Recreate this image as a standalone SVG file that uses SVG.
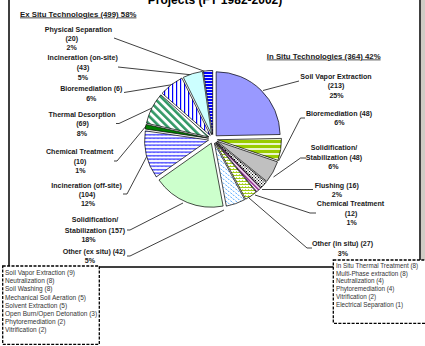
<svg xmlns="http://www.w3.org/2000/svg" width="425" height="346" viewBox="0 0 425 346">
<style>
.lb{font-family:"Liberation Sans",Arial,sans-serif;font-size:7.1px;font-weight:bold;fill:#1a1a1a;text-anchor:middle}
.hd{font-family:"Liberation Sans",Arial,sans-serif;font-size:7.8px;font-weight:bold;fill:#1a1a1a;text-decoration:underline}
.bx{font-family:"Liberation Sans",Arial,sans-serif;font-size:6.5px;fill:#333}
.bx2{font-family:"Liberation Sans",Arial,sans-serif;font-size:6.3px;fill:#333}
.sl{stroke:#000;stroke-width:0.7}
.ld{fill:none;stroke:#000;stroke-width:0.75}
.dash{fill:#fff;stroke:#000;stroke-width:1.3;stroke-dasharray:3 1.4}
</style>
<defs>
<pattern id="pPhys" width="3" height="3" patternUnits="userSpaceOnUse"><rect width="3" height="3" fill="#0000ff"/><rect y="2" width="3" height="0.9" fill="#fff"/></pattern>
<pattern id="pBioIn" width="6" height="5" patternUnits="userSpaceOnUse"><rect width="6" height="5" fill="#99cc00"/><rect y="3.2" width="6" height="1.6" fill="#fff"/></pattern>
<pattern id="pVert" width="4" height="4" patternUnits="userSpaceOnUse"><rect width="4" height="4" fill="#fff"/><rect width="1.2" height="4" fill="#0000ff"/></pattern>
<pattern id="pTD" width="5.5" height="5.5" patternUnits="userSpaceOnUse" patternTransform="rotate(-45)"><rect width="5.5" height="5.5" fill="#fff"/><rect width="2.6" height="5.5" fill="#339966"/></pattern>
<pattern id="pPur" width="3" height="3" patternUnits="userSpaceOnUse" patternTransform="rotate(-45)"><rect width="3" height="3" fill="#fff"/><rect width="1.4" height="3" fill="#800080"/></pattern>
<pattern id="pDots" width="3" height="3" patternUnits="userSpaceOnUse"><rect width="3" height="3" fill="#fff"/><rect width="1.1" height="1.1" fill="#000"/><rect x="1.5" y="1.5" width="1.1" height="1.1" fill="#000"/></pattern>
<pattern id="pOtherIn" width="3" height="3" patternUnits="userSpaceOnUse"><rect width="3" height="3" fill="#fff"/><path d="M0 2 L1 1 L2 2 L3 1" stroke="#99cc00" stroke-width="0.9" fill="none"/><rect x="2" y="0" width="0.8" height="0.8" fill="#99cc00"/></pattern>
<pattern id="pWave" width="5" height="4" patternUnits="userSpaceOnUse"><rect width="5" height="4" fill="#fff"/><path d="M0.3 0.5 L1.8 2 M2.8 2.5 L4.3 4" stroke="#3399ff" stroke-width="0.9" fill="none"/></pattern>
<pattern id="pZig" width="4" height="3.5" patternUnits="userSpaceOnUse"><rect width="4" height="3.5" fill="#fff"/><path d="M0 2.5 L1 1 L2 2.5 L3 1 L4 2.5" stroke="#0000ff" stroke-width="0.8" fill="none"/></pattern>
</defs>

<rect x="421" y="0" width="4" height="260" fill="#d0ccc5"/>
<rect x="9" y="-5" width="411" height="272" fill="#fff" stroke="#000" stroke-width="1.5"/>
<text x="215" y="4" font-family="Liberation Sans, Arial, sans-serif" font-size="12" font-weight="bold" text-anchor="middle" fill="#000">Projects (FY 1982-2002)</text>

<text class="hd" x="20" y="16.5">Ex Situ Technologies (499) 58%</text>
<text class="hd" x="323.7" y="58.5" text-anchor="middle">In Situ Technologies (364) 42%</text>

<g id="connectors">
<polyline class="ld" points="114,38 205,71.5"/>
<polyline class="ld" points="118,67 193,75"/>
<polyline class="ld" points="124,92.5 173,84.5"/>
<polyline class="ld" points="116,123.5 119,123.5 152,108"/>
<polyline class="ld" points="114,161 117,161 146.5,125.5"/>
<polyline class="ld" points="123,194 127,194 147,156"/>
<polyline class="ld" points="127,230 130,230 183,203"/>
<polyline class="ld" points="127,256 130,256 224,210"/>
<polyline class="ld" points="299,81 263,90.5"/>
<polyline class="ld" points="305,118 300.5,118 278.5,161"/>
<polyline class="ld" points="306,158 300.5,158 273.5,177"/>
<polyline class="ld" points="313,189.5 262,189.5"/>
<polyline class="ld" points="316,213 310,213 255,195"/>
<polyline class="ld" points="312,248 307,248 249,198"/>
</g>

<g id="sve">
<path class="sl" fill="#9999ff" d="M216.15,135.79 L216.15,71.79 A64,64 0 0 1 280.14,134.51 Z"/>
<text class="lb" x="336" y="78.5">Soil Vapor Extraction</text>
<text class="lb" x="336" y="87.8">(213)</text>
<text class="lb" x="336.5" y="97.5">25%</text>
</g>
<g id="bio-in">
<path class="sl" fill="url(#pBioIn)" d="M217.45,139.69 L281.44,138.41 A64,64 0 0 1 278.01,160.39 Z"/>
<text class="lb" x="339" y="115.8">Bioremediation (48)</text>
<text class="lb" x="339.5" y="125.2">6%</text>
</g>
<g id="ss-in">
<path class="sl" fill="#c0c0c0" d="M216.94,141.17 L277.5,161.87 A64,64 0 0 1 266.75,181.36 Z"/>
<text class="lb" x="334" y="149.8">Solidification/</text>
<text class="lb" x="334" y="160.2">Stabilization (48)</text>
<text class="lb" x="333.5" y="169.2">6%</text>
</g>
<g id="flushing">
<path class="sl" fill="url(#pDots)" d="M216.33,142.03 L266.14,182.22 A64,64 0 0 1 261.13,187.73 Z"/>
<text class="lb" x="336.7" y="187.5">Flushing (16)</text>
<text class="lb" x="337" y="196.8">2%</text>
</g>
<g id="chem-in">
<path class="sl" fill="url(#pPur)" d="M216.01,142.35 L260.81,188.05 A64,64 0 0 1 256.65,191.79 Z"/>
<text class="lb" x="350.5" y="205.8">Chemical Treatment</text>
<text class="lb" x="351" y="215.8">(12)</text>
<text class="lb" x="351.7" y="224.8">1%</text>
</g>
<g id="other-in">
<path class="sl" fill="url(#pOtherIn)" d="M215.5,142.74 L256.14,192.18 A64,64 0 0 1 245.7,199.17 Z"/>
<text class="lb" x="342.5" y="245.8">Other (in situ) (27)</text>
<text class="lb" x="343" y="255.8">3%</text>
</g>
<g id="other-ex">
<path class="sl" fill="url(#pWave)" d="M214.49,143.24 L244.69,199.67 A64,64 0 0 1 226.3,206.14 Z"/>
<text class="lb" x="94" y="253.5">Other (ex situ) (42)</text>
<text class="lb" x="90" y="262.5">5%</text>
</g>
<g id="ss-ex">
<path class="sl" fill="#ccffcc" d="M211.31,143.17 L223.12,206.07 A64,64 0 0 1 158.97,180 Z"/>
<text class="lb" x="95" y="221.8">Solidification/</text>
<text class="lb" x="95" y="232.5">Stabilization (157)</text>
<text class="lb" x="88.5" y="241.5">18%</text>
</g>
<g id="incin-off">
<path class="sl" fill="url(#pZig)" d="M208.62,140.05 L156.28,176.88 A64,64 0 0 1 145.28,130.88 Z"/>
<text class="lb" x="86.5" y="187.5">Incineration (off-site)</text>
<text class="lb" x="87" y="196.5">(104)</text>
<text class="lb" x="88" y="205.8">12%</text>
</g>
<g id="chem-ex">
<path class="sl" fill="#008000" d="M208.57,138.19 L145.23,129.02 A64,64 0 0 1 146.07,124.44 Z"/>
<text class="lb" x="79.7" y="153.5">Chemical Treatment</text>
<text class="lb" x="80" y="163.5">(10)</text>
<text class="lb" x="80.5" y="172.5">1%</text>
</g>
<g id="thermal">
<path class="sl" fill="url(#pTD)" d="M208.98,136.97 L146.48,123.22 A64,64 0 0 1 160.81,94.83 Z"/>
<text class="lb" x="82" y="116.5">Thermal Desorption</text>
<text class="lb" x="82.5" y="125.8">(69)</text>
<text class="lb" x="82" y="135.8">8%</text>
</g>
<g id="bio-ex">
<path class="sl" fill="url(#pVert)" d="M210.26,135.43 L162.09,93.29 A64,64 0 0 1 181.92,78.05 Z"/>
<text class="lb" x="91.3" y="90.8">Bioremediation (6)</text>
<text class="lb" x="91.3" y="100.8">6%</text>
</g>
<g id="incin-on">
<path class="sl" fill="#ccffff" d="M211.66,134.7 L183.32,77.32 A64,64 0 0 1 202.37,71.38 Z"/>
<text class="lb" x="82.7" y="59.8">Incineration (on-site)</text>
<text class="lb" x="83" y="69.8">(43)</text>
<text class="lb" x="83" y="79.8">5%</text>
</g>
<g id="phys">
<path class="sl" fill="url(#pPhys)" d="M212.67,134.51 L203.38,71.19 A64,64 0 0 1 212.67,70.51 Z"/>
<text class="lb" x="78.5" y="32.3">Physical Separation</text>
<text class="lb" x="71.7" y="40.8">(20)</text>
<text class="lb" x="71.7" y="50">2%</text>
</g>

<g id="ex-situ-other-box">
<rect class="dash" x="2.7" y="266" width="96.6" height="78.3"/>
<text class="bx" x="5" y="275">Soil Vapor Extraction (9)</text>
<text class="bx" x="5" y="283.2">Neutralization (8)</text>
<text class="bx" x="5" y="291.4">Soil Washing (8)</text>
<text class="bx" x="5" y="299.6">Mechanical Soil Aeration (5)</text>
<text class="bx" x="5" y="307.8">Solvent Extraction (5)</text>
<text class="bx" x="5" y="316">Open Burn/Open Detonation (3)</text>
<text class="bx" x="5" y="324.2">Phytoremediation (2)</text>
<text class="bx" x="5" y="332.4">Vitrification (2)</text>
</g>
<g id="in-situ-other-box">
<rect class="dash" x="333.3" y="260" width="100" height="63.3"/>
<text class="bx2" x="336" y="268">In Situ Thermal Treatment (8)</text>
<text class="bx2" x="336" y="275.7">Multi-Phase extraction (8)</text>
<text class="bx2" x="336" y="283.4">Neutralization (4)</text>
<text class="bx2" x="336" y="291.1">Phytoremediation (4)</text>
<text class="bx2" x="336" y="298.8">Vitrification (2)</text>
<text class="bx2" x="336" y="306.5">Electrical Separation (1)</text>
</g>
</svg>
